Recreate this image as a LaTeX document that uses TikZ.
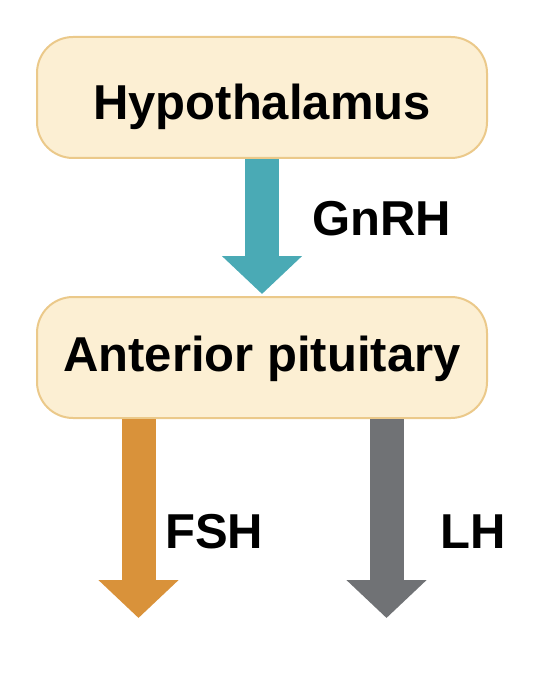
\documentclass[tikz,border=0pt]{standalone}
\usepackage{fontspec}
\setmainfont{Liberation Sans}
\usetikzlibrary{arrows.meta,calc}
\definecolor{boxfill}{HTML}{FCEFD3}
\definecolor{boxline}{HTML}{EBC98A}
\definecolor{tealarr}{HTML}{4AAAB5}
\definecolor{orangearr}{HTML}{D9923A}
\definecolor{grayarr}{HTML}{707275}
\tikzset{
  box/.style={draw=boxline, line width=2pt, fill=boxfill, rounded corners=36pt,
    minimum width=450pt, minimum height=121pt, inner sep=0pt, text depth=0pt,
    font=\fontsize{49}{55}\selectfont\bfseries},
  lbl/.style={anchor=base west, inner sep=0pt, font=\fontsize{49}{55}\selectfont\bfseries},
  fatarrow/.style={line width=34pt, line cap=butt,
    -{Triangle[width=78pt,length=38pt]}},
}
\begin{document}
\begin{tikzpicture}[x=1pt,y=-1pt]
\useasboundingbox (0,0) rectangle (557,676);
\node[box, text height=45pt] (hyp) at (262,97.5) {Hypothalamus};
\node[box, text height=27pt] (ant) at (262,357.5) {Anterior pituitary};
\coordinate (fshend) at (138.5,618);
\coordinate (lhend) at (386.5,618);
\draw[fatarrow, tealarr, shorten >=2pt] (hyp.south) -- (ant.north);
\draw[fatarrow, orangearr] (ant.south -| fshend) -- (fshend);
\draw[fatarrow, grayarr] (ant.south -| lhend) -- (lhend);
\node[lbl] (gnrh) at (312,235) {GnRH};
\node[lbl] (fsh) at (165,548) {FSH};
\node[lbl] (lh) at (440,548) {LH};
\end{tikzpicture}
\end{document}
